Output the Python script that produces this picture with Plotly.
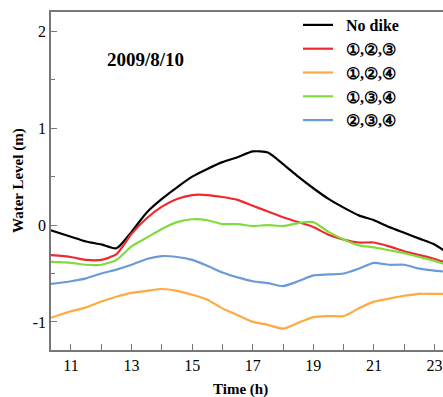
import plotly.graph_objects as go

hours = [10.3, 11, 11.5, 12, 12.5, 13, 13.5, 14, 14.5, 15, 15.5, 16, 16.5, 17, 17.5,
         18, 18.5, 19, 19.5, 20, 20.5, 21, 21.5, 22, 22.5, 23, 23.3]

no_dike = [-0.05, -0.12, -0.17, -0.20, -0.24, -0.07, 0.13, 0.27, 0.39, 0.50, 0.58, 0.65, 0.70,
           0.76, 0.75, 0.63, 0.50, 0.38, 0.27, 0.18, 0.10, 0.05, -0.02, -0.08, -0.14, -0.20, -0.26]
d123 = [-0.31, -0.33, -0.36, -0.36, -0.30, -0.09, 0.07, 0.19, 0.27, 0.31, 0.31, 0.29, 0.26,
        0.20, 0.14, 0.08, 0.03, -0.02, -0.10, -0.15, -0.18, -0.18, -0.22, -0.27, -0.31, -0.35, -0.38]
d124 = [-0.96, -0.89, -0.85, -0.79, -0.74, -0.70, -0.68, -0.66, -0.68, -0.72, -0.77, -0.86, -0.93,
        -1.00, -1.03, -1.07, -1.01, -0.95, -0.94, -0.94, -0.86, -0.79, -0.76, -0.73, -0.71, -0.71, -0.71]
d134 = [-0.38, -0.39, -0.41, -0.41, -0.36, -0.22, -0.13, -0.04, 0.03, 0.06, 0.05, 0.01, 0.01,
        -0.01, 0.00, -0.01, 0.02, 0.03, -0.07, -0.15, -0.21, -0.23, -0.26, -0.29, -0.33, -0.37, -0.40]
d234 = [-0.61, -0.58, -0.55, -0.50, -0.46, -0.41, -0.35, -0.32, -0.33, -0.36, -0.42, -0.49, -0.54,
        -0.58, -0.60, -0.63, -0.58, -0.52, -0.51, -0.50, -0.45, -0.39, -0.41, -0.41, -0.45, -0.47, -0.48]

series_names = ["No dike", "①,②,③", "①,②,④", "①,③,④", "②,③,④"]
series_vals = [no_dike, d123, d124, d134, d234]
colors = ["#000000", "#ee2a2e", "#ffa940", "#80dc3c", "#6b9bd6"]

x_tickvals = [11, 13, 15, 17, 19, 21, 23]
y_tickvals = [-1, 0, 1, 2]

serif = "Liberation Serif, Times New Roman, serif"

fig = go.Figure()
for i, (name, vals, col) in enumerate(zip(series_names, series_vals, colors)):
    fig.add_trace(go.Scatter(
        x=hours, y=vals, mode="lines", name="&nbsp;&nbsp;<b>" + name + "</b>",
        line=dict(color=col, width=2.2, shape="spline", smoothing=0.6),
        legendgroup=str(i),
    ))

W, H = 443 - 51, 397 - 12 - 47
def px_x(px):
    return (px - 51) / W
def px_y(py):
    return (397 - 47 - py) / H

axis_color = "#777777"
fig.update_layout(
    width=443, height=397,
    margin=dict(l=51, r=0, t=12, b=47, autoexpand=False),
    paper_bgcolor="white", plot_bgcolor="white",
    font=dict(family=serif, size=16, color="black"),
    showlegend=True,
    legend=dict(x=px_x(298), y=px_y(8), xanchor="left", yanchor="top",
                font=dict(family=serif, size=16, color="black"),
                bgcolor="rgba(0,0,0,0)", tracegroupgap=0, traceorder="grouped"),
    xaxis=dict(range=[10.34, 23.28], tickvals=x_tickvals, automargin=False,
               ticks="inside", ticklen=6, tickcolor=axis_color,
               minor=dict(dtick=1, tick0=10, ticks="inside", ticklen=6, tickcolor=axis_color),
               showline=True, linecolor=axis_color, linewidth=1.5, mirror=True,
               showgrid=False, zeroline=False,
               tickfont=dict(family=serif, size=16)),
    yaxis=dict(range=[-1.29, 2.2], tickvals=y_tickvals, ticktext=["-1", "0", "1", "2"],
               automargin=False,
               ticks="inside", ticklen=6, tickcolor=axis_color,
               minor=dict(dtick=0.5, tick0=0, ticks="inside", ticklen=4, tickcolor=axis_color),
               showline=True, linecolor=axis_color, linewidth=1.5,
               showgrid=False, zeroline=False,
               tickfont=dict(family=serif, size=16)),
    annotations=[
        dict(text="<b>2009/8/10</b>", x=px_x(145), y=px_y(60), xref="paper", yref="paper",
             xanchor="center", yanchor="middle",
             showarrow=False, font=dict(family=serif, size=19)),
        dict(text="<b>Time (h)</b>", x=px_x(240), y=px_y(389), xref="paper", yref="paper",
             xanchor="center", yanchor="middle",
             showarrow=False, font=dict(family=serif, size=15)),
        dict(text="<b>Water Level (m)</b>", x=px_x(18), y=px_y(181), xref="paper", yref="paper",
             xanchor="center", yanchor="middle",
             showarrow=False, textangle=-90, font=dict(family=serif, size=15)),
    ],
)

fig.write_html("out.html", config={"displayModeBar": False},
               post_script="document.body.style.margin='0';document.body.style.overflow='hidden';")
